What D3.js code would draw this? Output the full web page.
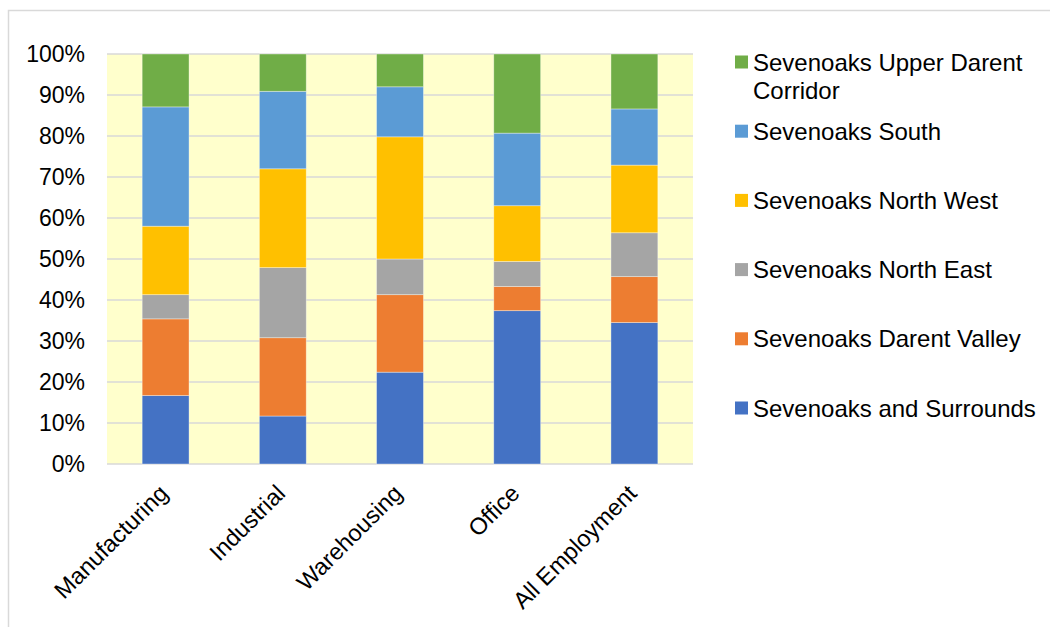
<!DOCTYPE html>
<html>
<head>
<meta charset="utf-8">
<script src="https://cdn.jsdelivr.net/npm/d3@7"></script>
<style>
  html, body { margin: 0; padding: 0; background: #ffffff; }
  svg { display: block; font-family: "Liberation Sans", Arial, sans-serif; }
</style>
</head>
<body>
<svg id="chart" width="1050" height="627"></svg>
<script>
// Employment floorspace share by sub-area, per use class (percent)
const categories = ["Manufacturing", "Industrial", "Warehousing", "Office", "All Employment"];
const seriesNames = [
  "Sevenoaks and Surrounds",
  "Sevenoaks Darent Valley",
  "Sevenoaks North East",
  "Sevenoaks North West",
  "Sevenoaks South",
  "Sevenoaks Upper Darent Corridor"
];
const surrounds    = [16.7, 11.7, 22.4, 37.4, 34.5];
const darentValley = [18.7, 19.1, 18.9,  5.9, 11.2];
const northEast    = [ 5.9, 17.1,  8.7,  6.1, 10.7];
const northWest    = [16.7, 24.1, 29.8, 13.6, 16.5];
const south        = [29.1, 18.9, 12.2, 17.7, 13.7];
const upperDarent  = [12.9,  9.1,  8.0, 19.3, 13.4];
const seriesValues = [surrounds, darentValley, northEast, northWest, south, upperDarent];
const seriesColors = ["#4472C4", "#ED7D31", "#A5A5A5", "#FFC000", "#5B9BD5", "#70AD47"];
const yTicks = [0, 10, 20, 30, 40, 50, 60, 70, 80, 90, 100];
// legend lists the series top-down in reverse stacking order
const legendLines = [
  ["Sevenoaks Upper Darent", "Corridor"],
  ["Sevenoaks South"],
  ["Sevenoaks North West"],
  ["Sevenoaks North East"],
  ["Sevenoaks Darent Valley"],
  ["Sevenoaks and Surrounds"]
];

const rows = categories.map((c, i) => {
  const r = { category: c };
  seriesNames.forEach((s, k) => { r[s] = seriesValues[k][i]; });
  return r;
});

const svg = d3.select("#chart");
const plot = { left: 107, right: 693, top: 54, bottom: 464 };

// outer chart frame
svg.append("rect")
  .attr("x", 8.5).attr("y", 10.5)
  .attr("width", 1100).attr("height", 700)
  .attr("fill", "none").attr("stroke", "#D9D9D9").attr("stroke-width", 1.5);

const x = d3.scaleBand().domain(categories).range([plot.left, plot.right]).padding(0);
const y = d3.scaleLinear().domain([0, 100]).range([plot.bottom, plot.top]);
const barW = x.bandwidth() * 0.4;

// plot background
svg.append("rect")
  .attr("x", plot.left).attr("y", plot.top)
  .attr("width", plot.right - plot.left).attr("height", plot.bottom - plot.top)
  .attr("fill", "#FFFFCC");

// gridlines
svg.append("g").selectAll("line").data(yTicks).join("line")
  .attr("x1", plot.left).attr("x2", plot.right)
  .attr("y1", d => y(d)).attr("y2", d => y(d))
  .attr("stroke", "#D9D9D9").attr("stroke-width", 1.5);

// y axis labels
const yAxis = d3.axisLeft(y).tickValues(yTicks).tickFormat(d => d + "%").tickSize(0).tickPadding(0);
const yg = svg.append("g").attr("transform", `translate(${plot.left - 22},0)`).call(yAxis);
yg.select(".domain").remove();
yg.selectAll("text").attr("font-size", 23).attr("fill", "#000").attr("font-family", "Liberation Sans, Arial, sans-serif");

// stacked bars
const stack = d3.stack().keys(seriesNames);
const layers = stack(rows);
svg.append("g").selectAll("g").data(layers).join("g")
  .attr("fill", (d, i) => seriesColors[i])
  .selectAll("rect").data(d => d).join("rect")
  .attr("x", d => x(d.data.category) + (x.bandwidth() - barW) / 2)
  .attr("width", barW)
  .attr("y", d => y(d[1]))
  .attr("height", d => y(d[0]) - y(d[1]))
  .attr("stroke", "rgba(255,255,255,0.45)").attr("stroke-width", 0.8);

// rotated category labels
svg.append("g").selectAll("text").data(categories).join("text")
  .attr("transform", d => `translate(${x(d) + x.bandwidth() / 2 - 8},${plot.bottom + 19}) rotate(-45)`)
  .attr("text-anchor", "end")
  .attr("dy", "0.71em")
  .attr("font-size", 23.5)
  .attr("fill", "#000")
  .text(d => d);

// legend
const legendColors = seriesColors.slice().reverse();
const lg = svg.append("g");
legendLines.forEach((lines, i) => {
  const cy = 62 + i * 69.2;
  lg.append("rect")
    .attr("x", 735).attr("y", cy - 6.5)
    .attr("width", 13).attr("height", 13)
    .attr("fill", legendColors[i]);
  const t = lg.append("text")
    .attr("x", 753).attr("y", cy + 8.5)
    .attr("font-size", 24).attr("fill", "#000");
  lines.forEach((ln, j) => {
    t.append("tspan").attr("x", 753).attr("dy", j === 0 ? 0 : 28).text(ln);
  });
});
</script>
</body>
</html>
